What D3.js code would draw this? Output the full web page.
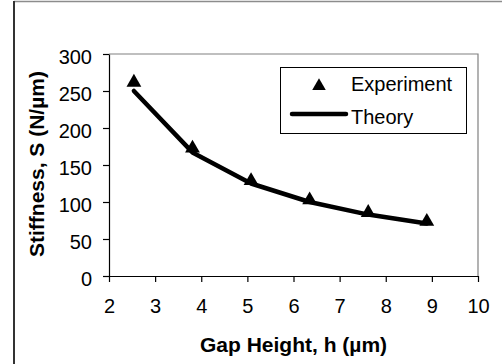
<!DOCTYPE html>
<html>
<head>
<meta charset="utf-8">
<script src="https://cdn.jsdelivr.net/npm/d3@7"></script>
<style>
  body { margin: 0; background: #fff; }
  svg { display: block; font-family: "Liberation Sans", Arial, sans-serif; }
</style>
</head>
<body>
<div class="chart-container"></div>
<script>
var gapHeight = [2.54, 3.81, 5.08, 6.35, 7.62, 8.89];
var experiment = [263, 174, 130, 104, 87, 75];
var theory = [250, 167, 125, 100, 83, 71];
var xTicks = [2, 3, 4, 5, 6, 7, 8, 9, 10];
var yTicks = [0, 50, 100, 150, 200, 250, 300];

var W = 502, H = 364;
var plot = {left: 109, right: 478, top: 54, bottom: 276};

var x = d3.scaleLinear().domain([2, 10]).range([plot.left, plot.right]),
    y = d3.scaleLinear().domain([0, 300]).range([plot.bottom, plot.top]);

var svg = d3.select(".chart-container").append("svg")
    .attr("width", W)
    .attr("height", H);

svg.append("rect").attr("width", W).attr("height", H).attr("fill", "#fff");

// outer chart frame (only top and left edges fall inside the picture)
svg.append("line").attr("x1", 14).attr("x2", W).attr("y1", 1.5).attr("y2", 1.5)
    .attr("stroke", "#8c8c8c").attr("stroke-width", 1.5);
svg.append("line").attr("x1", 14).attr("x2", 14).attr("y1", 1).attr("y2", H)
    .attr("stroke", "#333").attr("stroke-width", 2);

// plot area border, top and right
svg.append("path")
    .attr("d", "M" + plot.left + "," + plot.top + "H" + plot.right + "V" + plot.bottom)
    .attr("fill", "none").attr("stroke", "#808080").attr("stroke-width", 1.2);

var xAxis = d3.axisBottom(x).tickValues(xTicks).tickSize(6).tickSizeOuter(0).tickPadding(17)
    .tickFormat(d3.format("d"));
var yAxis = d3.axisLeft(y).tickValues(yTicks).tickSize(6).tickSizeOuter(0).tickPadding(11)
    .tickFormat(d3.format("d"));

var gx = svg.append("g")
    .attr("transform", "translate(0," + plot.bottom + ")")
    .call(xAxis);
var gy = svg.append("g")
    .attr("transform", "translate(" + plot.left + ",0)")
    .call(yAxis);

[gx, gy].forEach(function(g) {
  g.select(".domain").attr("stroke", "#000").attr("stroke-width", 1.2);
  g.selectAll(".tick line").attr("stroke", "#000").attr("stroke-width", 1.2);
  g.selectAll(".tick text")
    .attr("fill", "#000")
    .style("font-family", "'Liberation Sans', Arial, sans-serif")
    .style("font-size", "20px");
});
gy.selectAll(".tick text").attr("dy", "0.45em");

// axis titles
svg.append("text")
    .attr("x", (plot.left + plot.right) / 2)
    .attr("y", 352)
    .attr("text-anchor", "middle")
    .style("font-size", "21px").style("font-weight", "bold")
    .text("Gap Height, h (\u00b5m)");

svg.append("text")
    .attr("transform", "translate(44," + ((plot.top + plot.bottom) / 2 - 1) + ") rotate(-90)")
    .attr("text-anchor", "middle")
    .style("font-size", "21px").style("font-weight", "bold")
    .text("Stiffness, S (N/\u00b5m)");

// theory line
var line = d3.line()
    .x(function(d, i) { return x(gapHeight[i]); })
    .y(function(d) { return y(d); });

svg.append("path")
    .datum(theory)
    .attr("d", line)
    .attr("fill", "none")
    .attr("stroke", "#000")
    .attr("stroke-width", 4.5)
    .attr("stroke-linejoin", "round")
    .attr("stroke-linecap", "round");

// experiment markers
var tri = d3.symbol().type(d3.symbolTriangle).size(95);
svg.selectAll("path.marker")
    .data(experiment)
  .enter().append("path")
    .attr("class", "marker")
    .attr("d", tri)
    .attr("transform", function(d, i) { return "translate(" + x(gapHeight[i]) + "," + (y(d) + 1) + ")"; })
    .attr("fill", "#000");

// legend
var lg = svg.append("g");
lg.append("rect")
    .attr("x", 280.5).attr("y", 67.5).attr("width", 186).attr("height", 66)
    .attr("fill", "#fff").attr("stroke", "#000").attr("stroke-width", 1);
lg.append("path")
    .attr("d", d3.symbol().type(d3.symbolTriangle).size(80))
    .attr("transform", "translate(319,86)")
    .attr("fill", "#000");
lg.append("line")
    .attr("x1", 292).attr("x2", 346).attr("y1", 114).attr("y2", 114)
    .attr("stroke", "#000").attr("stroke-width", 4.5).attr("stroke-linecap", "round");
lg.append("text").attr("x", 351).attr("y", 91)
    .style("font-size", "20px").text("Experiment");
lg.append("text").attr("x", 351).attr("y", 124)
    .style("font-size", "20px").text("Theory");
</script>
</body>
</html>
